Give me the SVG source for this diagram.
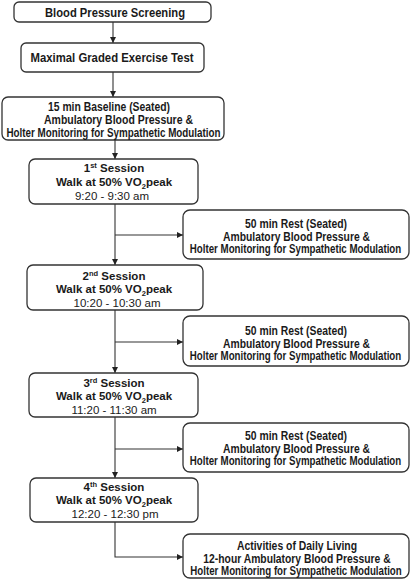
<svg xmlns="http://www.w3.org/2000/svg" width="410" height="581" viewBox="0 0 410 581">
<defs>
<marker id="ah" viewBox="0 0 10 10" refX="10" refY="5" markerWidth="6" markerHeight="6" markerUnits="userSpaceOnUse" orient="auto">
<path d="M0,0 L10,5 L0,10 z" fill="#222"/>
</marker>
<style>
.box{fill:#fff;stroke:#333;stroke-width:1.3}
.b{font-family:"Liberation Sans",Arial,sans-serif;font-weight:bold;font-size:11.5px;fill:#1a1a1a;text-anchor:middle}
.w{font-size:12px}
.r{font-family:"Liberation Sans",Arial,sans-serif;font-size:11.5px;fill:#1a1a1a;text-anchor:middle}
.c{fill:none;stroke:#333;stroke-width:1.1}
</style>
</defs>
<rect width="410" height="581" fill="#fff"/>
<g id="connectors">
<path class="c" d="M113,22 V43" marker-end="url(#ah)"/>
<path class="c" d="M113,72 V97" marker-end="url(#ah)"/>
<path class="c" d="M115,140 V159" marker-end="url(#ah)"/>
<path class="c" d="M115,204 V265" marker-end="url(#ah)"/>
<path class="c" d="M115,235 H183" marker-end="url(#ah)"/>
<path class="c" d="M115,310 V373" marker-end="url(#ah)"/>
<path class="c" d="M115,342 H183" marker-end="url(#ah)"/>
<path class="c" d="M115,417 V478" marker-end="url(#ah)"/>
<path class="c" d="M115,449 H183" marker-end="url(#ah)"/>
<path class="c" d="M115,522 V557 H183" marker-end="url(#ah)"/>
</g>
<g id="screening">
<rect class="box" x="14" y="2" width="197" height="20" rx="5"/>
<text class="b w" x="115" y="17" textLength="140" lengthAdjust="spacingAndGlyphs">Blood Pressure Screening</text>
</g>
<g id="exercise-test">
<rect class="box" x="21" y="43" width="183" height="29" rx="5"/>
<text class="b w" x="112" y="62" textLength="163" lengthAdjust="spacingAndGlyphs">Maximal Graded Exercise Test</text>
</g>
<g id="baseline">
<rect class="box" x="2" y="97" width="222" height="43" rx="6"/>
<text class="b w" x="109" y="111" textLength="122" lengthAdjust="spacingAndGlyphs">15 min Baseline (Seated)</text>
<text class="b w" x="118.5" y="124" textLength="149" lengthAdjust="spacingAndGlyphs">Ambulatory Blood Pressure &amp;</text>
<text class="b w" transform="translate(113.5,137) scale(0.82,1)">Holter Monitoring for Sympathetic Modulation</text>
</g>
<g id="session1">
<rect class="box" x="29" y="159" width="169" height="45" rx="6"/>
<text class="b" x="114" y="172">1<tspan font-size="7.5px" dy="-4">st</tspan><tspan dy="4"> Session</tspan></text>
<text class="b" x="114" y="186">Walk at 50% VO<tspan font-size="7.5px" dy="2.5">2</tspan><tspan dy="-2.5">peak</tspan></text>
<text class="r" x="112" y="200">9:20 - 9:30 am</text>
</g>
<g id="rest1">
<rect class="box" x="183" y="210" width="226" height="49" rx="7"/>
<text class="b w" x="296" y="228" textLength="102" lengthAdjust="spacingAndGlyphs">50 min Rest (Seated)</text>
<text class="b w" x="296.5" y="240.5" textLength="147" lengthAdjust="spacingAndGlyphs">Ambulatory Blood Pressure &amp;</text>
<text class="b w" transform="translate(295.5,253) scale(0.81,1)">Holter Monitoring for Sympathetic Modulation</text>
</g>
<g id="session2">
<rect class="box" x="27" y="265" width="176" height="45" rx="6"/>
<text class="b" x="114" y="280">2<tspan font-size="7.5px" dy="-4">nd</tspan><tspan dy="4"> Session</tspan></text>
<text class="b" x="114" y="293">Walk at 50% VO<tspan font-size="7.5px" dy="2.5">2</tspan><tspan dy="-2.5">peak</tspan></text>
<text class="r" x="117" y="307">10:20 - 10:30 am</text>
</g>
<g id="rest2">
<rect class="box" x="183" y="316" width="226" height="50" rx="7"/>
<text class="b w" x="296" y="335" textLength="102" lengthAdjust="spacingAndGlyphs">50 min Rest (Seated)</text>
<text class="b w" x="296.5" y="347.5" textLength="147" lengthAdjust="spacingAndGlyphs">Ambulatory Blood Pressure &amp;</text>
<text class="b w" transform="translate(295.5,360) scale(0.81,1)">Holter Monitoring for Sympathetic Modulation</text>
</g>
<g id="session3">
<rect class="box" x="29" y="373" width="169" height="44" rx="6"/>
<text class="b" x="114" y="387">3<tspan font-size="7.5px" dy="-4">rd</tspan><tspan dy="4"> Session</tspan></text>
<text class="b" x="114" y="400">Walk at 50% VO<tspan font-size="7.5px" dy="2.5">2</tspan><tspan dy="-2.5">peak</tspan></text>
<text class="r" x="114" y="413.5">11:20 - 11:30 am</text>
</g>
<g id="rest3">
<rect class="box" x="183" y="423" width="226" height="49" rx="7"/>
<text class="b w" x="296" y="440" textLength="102" lengthAdjust="spacingAndGlyphs">50 min Rest (Seated)</text>
<text class="b w" x="296.5" y="452.5" textLength="147" lengthAdjust="spacingAndGlyphs">Ambulatory Blood Pressure &amp;</text>
<text class="b w" transform="translate(295.5,465) scale(0.81,1)">Holter Monitoring for Sympathetic Modulation</text>
</g>
<g id="session4">
<rect class="box" x="30" y="478" width="168" height="44" rx="6"/>
<text class="b" x="114" y="491">4<tspan font-size="7.5px" dy="-4">th</tspan><tspan dy="4"> Session</tspan></text>
<text class="b" x="114" y="504">Walk at 50% VO<tspan font-size="7.5px" dy="2.5">2</tspan><tspan dy="-2.5">peak</tspan></text>
<text class="r" x="115" y="517.5">12:20 - 12:30 pm</text>
</g>
<g id="daily-living">
<rect class="box" x="183" y="534" width="226" height="44" rx="7"/>
<text class="b w" x="297" y="550" textLength="120" lengthAdjust="spacingAndGlyphs">Activities of Daily Living</text>
<text class="b w" transform="translate(297,562.5) scale(0.862,1)">12-hour Ambulatory Blood Pressure &amp;</text>
<text class="b w" transform="translate(296,575) scale(0.81,1)">Holter Monitoring for Sympathetic Modulation</text>
</g>
</svg>
